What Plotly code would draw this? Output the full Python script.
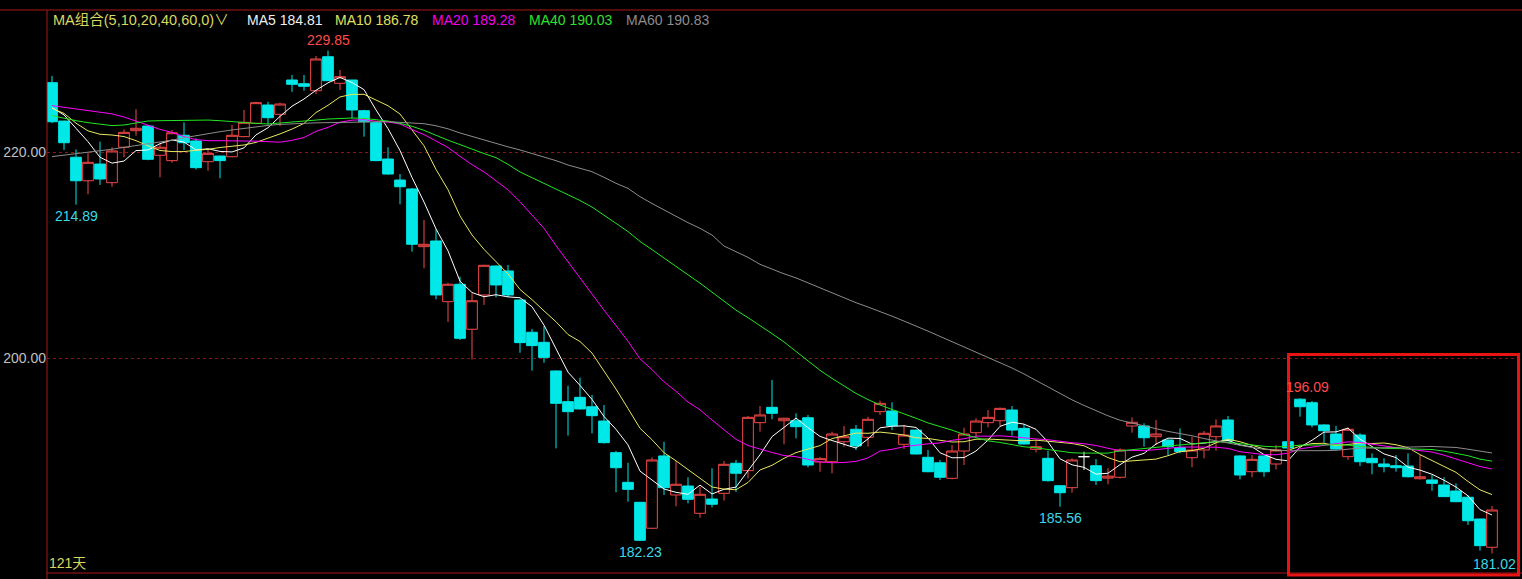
import numpy as np
import pandas as pd
import plotly.graph_objects as go

# ---------------- data ----------------
open_ = [226.73, 223.00, 219.49, 217.21, 218.83, 217.02, 220.46, 222.07, 222.52, 219.68,
         219.16, 221.62, 221.07, 219.06, 219.61, 219.54, 221.49, 222.79, 224.56, 223.66,
         226.99, 226.63, 225.95, 229.25, 226.67, 226.99, 224.01, 222.85, 219.32, 217.28,
         216.41, 210.81, 211.36, 205.47, 207.16, 202.79, 206.12, 208.93, 208.45, 205.63,
         202.50, 201.52, 198.74, 195.76, 196.18, 195.27, 193.88, 190.81, 187.93, 185.99,
         183.47, 190.49, 186.70, 187.57, 184.92, 186.31, 186.86, 189.78, 189.07, 193.72,
         195.21, 193.91, 193.91, 194.20, 189.90, 189.93, 191.87, 193.08, 192.30, 194.79,
         194.85, 191.62, 193.00, 190.36, 189.83, 188.32, 190.97, 192.75, 193.72, 193.91,
         194.95, 193.17, 191.13, 190.26, 187.60, 187.41, 190.42, 189.54, 188.34, 188.42,
         193.40, 193.40, 192.36, 192.04, 191.31, 190.32, 191.07, 192.36, 193.98, 190.49,
         188.96, 190.49, 189.71, 191.87, 196.00, 195.66, 193.50, 192.62, 190.42, 192.52,
         190.26, 189.71, 189.54, 189.51, 188.28, 188.16, 187.67, 187.09, 186.48, 184.37,
         181.62]
high = [227.38, 223.05, 220.26, 219.93, 221.00, 220.46, 222.20, 224.15, 222.60, 220.78,
        222.14, 222.88, 221.33, 220.26, 219.65, 222.62, 224.08, 224.88, 224.88, 224.79,
        227.48, 227.48, 229.32, 229.85, 227.96, 227.00, 224.10, 222.90, 220.46, 217.86,
        216.50, 213.40, 212.50, 207.30, 207.89, 206.28, 209.05, 209.00, 209.03, 205.70,
        202.82, 203.11, 198.80, 197.31, 198.09, 196.41, 195.44, 190.97, 189.83, 186.00,
        190.36, 191.87, 190.00, 188.42, 187.50, 189.29, 190.00, 190.10, 194.37, 195.34,
        197.86, 194.20, 194.63, 194.47, 190.40, 192.85, 193.40, 193.50, 194.30, 195.86,
        195.70, 193.50, 193.05, 191.07, 190.10, 191.55, 193.23, 194.15, 194.95, 195.20,
        195.34, 193.56, 192.04, 191.00, 187.65, 190.26, 190.90, 190.19, 189.30, 191.23,
        194.24, 193.66, 193.98, 192.10, 193.17, 192.36, 192.91, 194.05, 194.37, 190.55,
        190.58, 190.55, 191.55, 191.90, 196.09, 195.82, 193.56, 193.40, 193.27, 192.69,
        190.74, 190.26, 190.58, 190.74, 190.58, 188.64, 188.42, 187.83, 186.70, 184.40,
        185.63]
low = [222.80, 220.19, 214.89, 215.90, 216.80, 216.63, 219.49, 221.58, 219.20, 217.54,
       218.96, 220.19, 218.30, 218.18, 217.45, 219.49, 221.43, 222.69, 222.69, 222.52,
       225.85, 225.95, 225.63, 226.90, 226.02, 223.27, 221.49, 219.10, 217.80, 214.92,
       210.32, 208.71, 205.70, 203.50, 201.75, 199.87, 205.15, 205.89, 205.90, 200.51,
       198.77, 199.54, 191.23, 192.46, 195.00, 192.69, 191.70, 186.96, 186.05, 182.23,
       183.40, 186.70, 185.60, 185.89, 184.50, 185.50, 186.15, 187.00, 188.30, 192.85,
       194.05, 191.62, 192.20, 189.39, 188.96, 188.81, 191.39, 191.07, 191.39, 194.47,
       193.00, 191.16, 190.65, 188.90, 188.16, 188.22, 189.61, 192.36, 193.27, 193.40,
       192.46, 191.60, 190.84, 188.00, 185.56, 186.92, 189.13, 187.67, 187.74, 188.30,
       192.75, 191.39, 191.55, 190.58, 190.75, 189.40, 190.26, 191.00, 191.90, 188.22,
       188.42, 188.47, 189.19, 191.20, 194.30, 193.27, 191.78, 191.10, 190.10, 189.51,
       188.71, 188.90, 188.96, 188.40, 188.20, 187.12, 186.50, 186.00, 183.79, 181.30,
       181.02]
close = [222.94, 220.90, 217.21, 219.00, 217.38, 220.10, 221.91, 222.30, 219.29, 220.46,
         221.87, 220.90, 218.48, 219.87, 219.16, 221.62, 222.88, 224.79, 223.33, 224.66,
         226.57, 226.38, 229.03, 226.92, 227.31, 224.08, 222.94, 219.16, 217.86, 216.63,
         211.04, 211.04, 206.12, 207.16, 201.91, 205.56, 209.00, 207.09, 206.12, 201.49,
         201.20, 200.06, 195.60, 194.79, 195.05, 194.40, 191.78, 189.35, 187.25, 182.30,
         190.10, 187.41, 187.74, 186.28, 186.77, 185.80, 189.68, 188.81, 194.24, 194.47,
         194.63, 194.15, 193.33, 189.61, 190.23, 192.62, 192.36, 191.46, 194.05, 195.60,
         193.43, 192.52, 190.68, 188.96, 188.42, 190.97, 192.62, 193.88, 194.24, 195.11,
         193.00, 191.65, 191.39, 188.09, 186.92, 190.10, 190.42, 188.09, 188.53, 191.07,
         193.76, 192.26, 192.62, 191.39, 190.91, 191.07, 192.69, 193.40, 191.97, 188.64,
         190.16, 188.96, 191.07, 191.26, 195.27, 193.50, 192.94, 191.16, 193.08, 189.93,
         189.83, 189.45, 189.35, 188.47, 188.47, 187.83, 186.54, 186.05, 184.20, 181.78,
         185.24]

ma_periods = [5, 10, 20, 40, 60]
ma_names = ["MA5", "MA10", "MA20", "MA40", "MA60"]
ma_header_values = [184.81, 186.78, 189.28, 190.03, 190.83]
# MA values before a full window is available inside the shown range
ma_warmup = {
    5: [224.30, 223.60, 222.30, 221.00],
    10: [224.24, 223.75, 222.80, 222.05, 221.72, 221.65, 221.50, 221.10, 220.60],
    20: [224.50, 224.35, 224.20, 224.05, 223.90, 223.70, 223.40, 223.00, 222.60, 222.20,
         221.90, 221.50, 221.20, 221.10, 221.10, 221.10, 221.10, 221.05, 221.00],
    40: [223.53, 223.27, 223.04, 222.85, 222.69, 222.56, 222.62, 222.85, 223.01, 223.04,
         223.07, 223.10, 223.10, 223.10, 223.04, 222.94, 222.85, 222.78, 222.72, 222.80,
         222.90, 223.00, 223.10, 223.20, 223.27, 223.30, 223.27, 223.15, 223.00, 222.78,
         222.50, 222.10, 221.60, 221.15, 220.72, 220.25, 219.85, 219.45, 218.80],
    60: [219.55, 219.68, 219.82, 219.95, 220.10, 220.27, 220.45, 220.62, 220.78, 220.95,
         221.15, 221.38, 221.60, 221.80, 221.97, 222.14, 222.30, 222.45, 222.58, 222.68,
         222.75, 222.80, 222.83, 222.85, 222.87, 222.90, 222.95, 222.98, 222.95, 222.88,
         222.82, 222.75, 222.55, 222.25, 221.85, 221.50, 221.20, 220.85, 220.50, 220.20,
         219.87, 219.55, 219.16, 218.74, 218.41, 218.09, 217.54, 216.96, 216.47, 215.66,
         215.00, 214.37, 213.72, 213.14, 212.59, 211.94, 210.87, 210.32, 209.77],
}
y_ticks = [200, 220]
extreme_labels = [(23, "high"), (2, "low"), (49, "low"), (84, "low"), (104, "high"), (120, "low")]

# ---------------- styling ----------------
UP = "#F04848"
DOWN = "#00E8E8"
LABEL_UP = "#FF4A4A"
LABEL_DN = "#3CD8E8"
ma_colors = ["#FFFFFF", "#E8E860", "#FF00FF", "#22E622", "#8C8C8C"]
header_colors = ["#F0F0F0", "#E0E060", "#F000F0", "#30E030", "#8C8C8C"]
BORDER = "#A81818"
W, H = 1522, 579
ML, MR, MT, MB = 47, 0, 10, 6
PW, PH = W - ML - MR, H - MT - MB
FONT = "Liberation Sans, Arial, Noto Sans CJK SC, sans-serif"


def px_x(px):
    return (px - ML) / PW


def px_y(py):
    return 1 - (py - MT) / PH


n = len(close)
x = np.arange(n)
s = pd.Series(close)
mas = {}
for p in ma_periods:
    m = s.rolling(p).mean().to_numpy()
    m[: p - 1] = ma_warmup[p]
    mas[p] = m

o = np.array(open_); h = np.array(high); l = np.array(low); c = np.array(close)
doji = o == c
main = ~doji

fig = go.Figure()
fig.add_trace(go.Candlestick(
    x=x[main], open=o[main], high=h[main], low=l[main], close=c[main],
    increasing=dict(line=dict(color=UP, width=1), fillcolor="#000000"),
    decreasing=dict(line=dict(color=DOWN, width=1), fillcolor=DOWN),
    whiskerwidth=0, hoverinfo="skip", showlegend=False))
if doji.any():
    fig.add_trace(go.Candlestick(
        x=x[doji], open=o[doji], high=h[doji], low=l[doji], close=c[doji],
        increasing=dict(line=dict(color="#FFFFFF", width=1), fillcolor="#FFFFFF"),
        decreasing=dict(line=dict(color="#FFFFFF", width=1), fillcolor="#FFFFFF"),
        whiskerwidth=0, hoverinfo="skip", showlegend=False))

for p, col in zip(ma_periods, ma_colors):
    fig.add_trace(go.Scatter(x=x, y=mas[p], mode="lines", line=dict(color=col, width=1),
                             hoverinfo="skip", showlegend=False))

# scale: candle i centre at 52 + 12 i px ; 220 -> y 152 px, 200 -> y 358 px
ppu = 12.0
x0 = -(52 - ML) / ppu
x1 = x0 + PW / ppu
yppu = (358 - 152) / 20.0
ymax = 220 + (152 - MT) / yppu
ymin = ymax - PH / yppu

annotations = []
# header
annotations.append(dict(xref="paper", yref="paper", x=px_x(51), y=px_y(20), xanchor="left", yanchor="middle",
                        text="MA组合(" + ",".join(str(p) for p in ma_periods) + ",0)∨", showarrow=False,
                        font=dict(family=FONT, size=14.5, color="#D8D860")))
hx = [245, 333, 430, 527, 624]
for name, val, col, xx in zip(ma_names, ma_header_values, header_colors, hx):
    annotations.append(dict(xref="paper", yref="paper", x=px_x(xx), y=px_y(20), xanchor="left",
                            yanchor="middle", text=f"{name} {val:.2f}", showarrow=False,
                            font=dict(family=FONT, size=14, color=col)))
# extreme labels
for idx, kind in extreme_labels:
    if kind == "high":
        annotations.append(dict(x=idx, y=high[idx], xref="x", yref="y", text=f"{high[idx]:.2f}",
                                showarrow=False, yanchor="bottom", yshift=1,
                                xshift=7 if idx == 104 else 0,
                                font=dict(family=FONT, size=14, color=LABEL_UP)))
    else:
        annotations.append(dict(x=idx, y=low[idx], xref="x", yref="y", text=f"{low[idx]:.2f}",
                                showarrow=False, yanchor="top", yshift=-1,
                                xshift=2 if idx == 120 else 0,
                                font=dict(family=FONT, size=14, color=LABEL_DN)))
annotations.append(dict(xref="paper", yref="paper", x=px_x(47), y=px_y(563), xanchor="left", yanchor="middle",
                        text=f"{n}天", showarrow=False, font=dict(family=FONT, size=14, color="#D8D860")))

shapes = [
    dict(type="line", xref="paper", yref="paper", x0=px_x(0), x1=1, y0=1, y1=1,
         line=dict(color=BORDER, width=1)),
    dict(type="line", xref="paper", yref="paper", x0=0, x1=0, y0=px_y(H), y1=1,
         line=dict(color=BORDER, width=1)),
    dict(type="line", xref="paper", yref="paper", x0=0, x1=1, y0=0, y1=0,
         line=dict(color=BORDER, width=1)),
    dict(type="rect", xref="paper", yref="paper", x0=px_x(1288.5), x1=px_x(1518.5),
         y0=px_y(575), y1=px_y(354.5), line=dict(color="#E81414", width=3)),
]

fig.update_layout(
    width=W, height=H, margin=dict(l=ML, r=MR, t=MT, b=MB, pad=0),
    paper_bgcolor="#000000", plot_bgcolor="#000000",
    boxgap=0.08, boxgroupgap=0.03,
    xaxis=dict(range=[x0, x1], visible=False, rangeslider=dict(visible=False), fixedrange=True),
    yaxis=dict(range=[ymin, ymax], tickvals=y_ticks, ticktext=[f"{v:.2f}" for v in y_ticks],
               tickfont=dict(family=FONT, size=14, color="#C0C0C0"), ticks="",
               showgrid=True, gridcolor="#8C1414", griddash="3px,3px", gridwidth=1,
               zeroline=False, showline=False, fixedrange=True),
    annotations=annotations, shapes=shapes, showlegend=False,
)

fig.write_html("out.html", config={"displayModeBar": False},
               post_script="document.body.style.margin='0';document.body.style.overflow='hidden';")
